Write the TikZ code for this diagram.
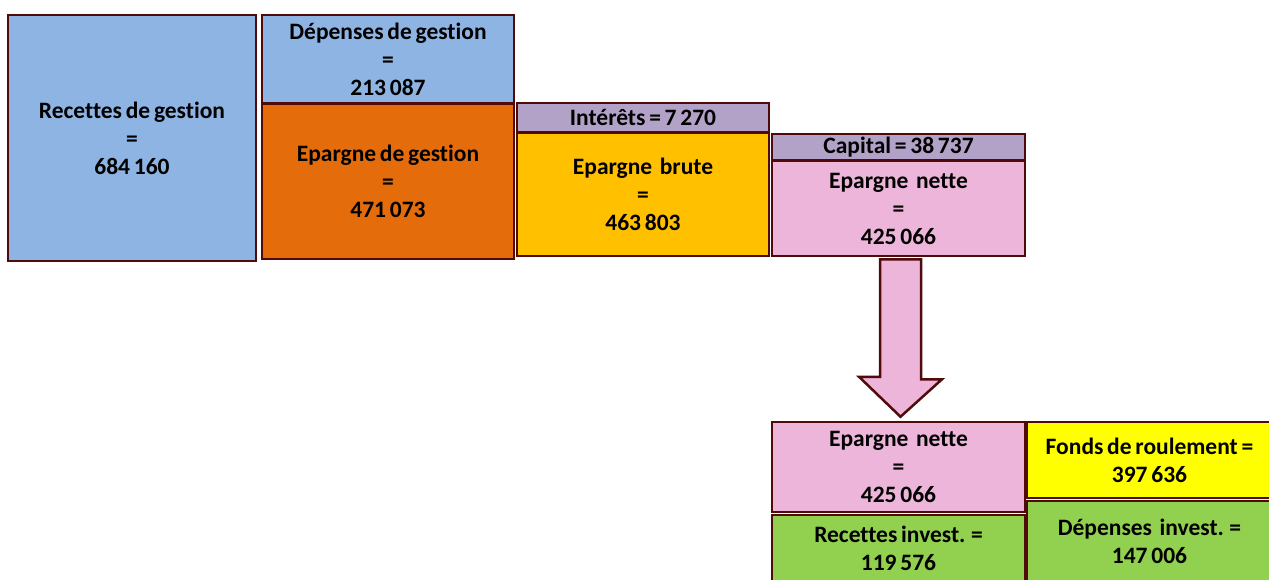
\documentclass[tikz,border=0pt]{standalone}
\usepackage{fontspec}
\setmainfont{Carlito}[Ligatures=CommonOff]
\usepackage{tikz}
\usetikzlibrary{calc}
\definecolor{bordure}{RGB}{80,10,10}
\definecolor{bleu}{RGB}{142,180,227}
\definecolor{orange}{RGB}{228,108,10}
\definecolor{or}{RGB}{255,192,0}
\definecolor{lavande}{RGB}{179,162,199}
\definecolor{rose}{RGB}{236,181,217}
\definecolor{jaune}{RGB}{255,255,0}
\definecolor{vert}{RGB}{146,208,80}
\newcommand{\boxfont}{\fontsize{23.5}{28}\selectfont\bfseries\spaceskip=0.16em plus 0.05em\relax}
\tikzset{box/.style={draw=bordure,line width=2.5pt,align=center,inner sep=0pt,font=\boxfont},
         flux/.style={draw=bordure,line width=2.5pt,fill=rose,line join=miter}}

\begin{document}
\begin{tikzpicture}[x=1pt,y=-1pt]
\useasboundingbox (0,0) rectangle (1269,579);
\node[box,fill=bleu,minimum width=248,minimum height=246] (rg) at (132,138) {Recettes de gestion\\=\\684 160};
\node[box,fill=bleu,minimum width=252,minimum height=88] (dg) at (388,59) {Dépenses de gestion\\=\\213 087};
\node[box,fill=orange,minimum width=252,minimum height=155] (eg) at (388,181.5) {Epargne de gestion\\=\\471 073};
\node[box,fill=lavande,minimum width=252,minimum height=29] (int) at (643,117.5) {Intérêts = 7 270};
\node[box,fill=or,minimum width=252,minimum height=123] (eb) at (643,194.5) {Epargne~ brute\\=\\463 803};
\node[box,fill=lavande,minimum width=253,minimum height=26] (cap) at (898.5,147) {Capital = 38 737};
\node[box,fill=rose,minimum width=253,minimum height=95] (en) at (898.5,208.5) {Epargne~ nette\\=\\425 066};
\node[box,fill=rose,minimum width=253,minimum height=90] (en2) at (898.5,467) {Epargne~ nette\\=\\425 066};
\node[box,fill=vert,minimum width=253,minimum height=67] (ri) at (898.5,548.5) {Recettes invest. =\\119 576};
\node[box,fill=jaune,minimum width=245,minimum height=76] (fr) at (1149.5,460) {Fonds de roulement =\\397 636};
\node[box,fill=vert,minimum width=245,minimum height=81] (di) at (1149.5,541.5) {Dépenses~ invest. =\\147 006};
\draw[flux] ($(en.south)+(-18.5,2)$) -- ++(41,0) -- ++(0,120) -- ++(21,0)
  -- ($(en2.north)+(2,-4)$) -- ++(-41.5,-40) -- ++(21,0) -- cycle;
\end{tikzpicture}
\end{document}
